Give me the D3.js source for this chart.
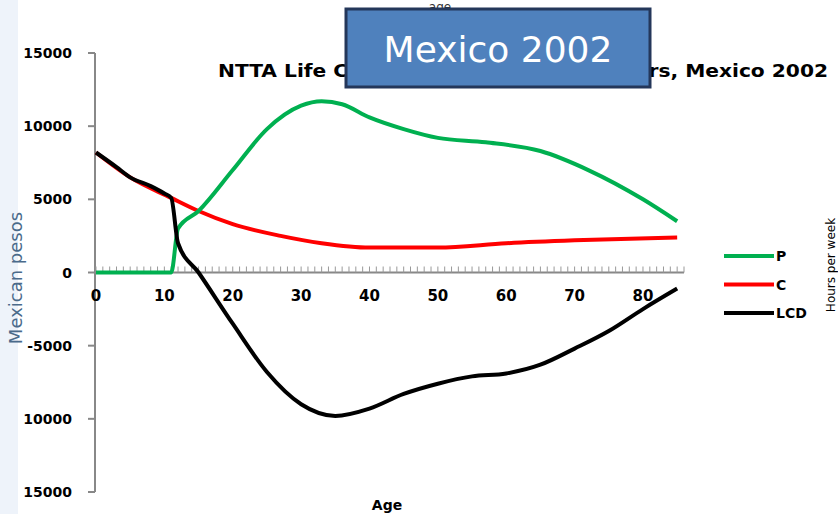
<!DOCTYPE html><html><head><script src="https://cdn.jsdelivr.net/npm/d3@7"></script>
<style>body{margin:0;background:#fff}text{font-family:Verdana,"DejaVu Sans",sans-serif}</style></head><body><svg id="c" width="838" height="514"></svg>
<script>
const pAges=[0,11,12,15,20,25,30,33,36,40,45,50,57,65,72,80,85];
const pVals=[0,0,3000,4200,7000,9800,11400,11700,11500,10600,9800,9200,8900,8300,7000,5000,3500];
const cAges=[0,5,11,15,20,27,33,40,50,60,70,85];
const cVals=[8200,6500,5100,4200,3300,2500,2000,1700,1700,2000,2200,2400];
const lAges=[0,3,5,8,10,11,12,15,20,25,30,35,40,45,50,55,60,65,70,75,80,85];
const lVals=[8200,7200,6500,5900,5400,5100,2000,0,-3500,-6800,-9000,-9800,-9300,-8300,-7600,-7100,-6900,-6300,-5200,-4000,-2500,-1100];
const yTicks=[15000,10000,5000,0,-5000,-10000,-15000];
const yTickLabels=["15000","10000","5000","0","-5000","10000","15000"];
const xTicks=[0,10,20,30,40,50,60,70,80];
const svg=d3.select("#c");
svg.append("rect").attr("x",0).attr("y",0).attr("width",18).attr("height",514).attr("fill","#eef3fa");
const x=d3.scaleLinear().domain([0,86]).range([96,684]);
const y=d3.scaleLinear().domain([-15000,15000]).range([492,53]);
const g=svg.append("g");
g.append("line").attr("x1",95).attr("x2",95).attr("y1",53).attr("y2",492).attr("stroke","#888").attr("stroke-width",2);
yTicks.forEach((t,i)=>{g.append("line").attr("x1",88).attr("x2",95).attr("y1",y(t)).attr("y2",y(t)).attr("stroke","#888").attr("stroke-width",2);
 g.append("text").attr("x",72).attr("y",y(t)+5).attr("text-anchor","end").attr("font-size",14).attr("font-weight","bold").text(yTickLabels[i]);});
g.append("line").attr("x1",95).attr("x2",684).attr("y1",y(0)).attr("y2",y(0)).attr("stroke","#888").attr("stroke-width",2);
d3.range(0,87).forEach(a=>g.append("line").attr("x1",x(a)).attr("x2",x(a)).attr("y1",y(0)).attr("y2",y(0)-6).attr("stroke","#999").attr("stroke-width",1));
xTicks.forEach(t=>g.append("text").attr("x",x(t)).attr("y",y(0)+28).attr("text-anchor","middle").attr("font-size",15).attr("font-weight","bold").text(t));
const line=d3.line().curve(d3.curveMonotoneX);
function draw(a,v,c){svg.append("path").attr("d",line(a.map((d,i)=>[x(d),y(v[i])]))).attr("fill","none").attr("stroke",c).attr("stroke-width",4);}
draw(cAges,cVals,"#ff0000");draw(pAges,pVals,"#00b050");draw(lAges,lVals,"#000");
svg.append("text").attr("x",218).attr("y",77).attr("font-size",17).attr("font-weight","bold").attr("textLength",610).attr("lengthAdjust","spacingAndGlyphs").text("NTTA Life Cycle Deficit and Labor Hours, Mexico 2002");
svg.append("text").attr("x",440).attr("y",11).attr("text-anchor","middle").attr("font-size",12).attr("fill","#333").text("age");
svg.append("text").attr("x",387).attr("y",510).attr("text-anchor","middle").attr("font-size",14).attr("font-weight","bold").text("Age");
svg.append("text").attr("transform","translate(22,278) rotate(-90)").attr("text-anchor","middle").attr("font-size",18).attr("fill","#4a6a8a").attr("font-family","Liberation Sans Narrow,Arial Narrow,sans-serif").text("Mexican pesos");
svg.append("text").attr("transform","translate(835,265) rotate(-90)").attr("text-anchor","middle").attr("font-size",12).text("Hours per week");
[["P","#00b050"],["C","#ff0000"],["LCD","#000"]].forEach((d,i)=>{const yy=256+i*28.5;
 svg.append("line").attr("x1",724).attr("x2",774).attr("y1",yy).attr("y2",yy).attr("stroke",d[1]).attr("stroke-width",4);
 svg.append("text").attr("x",776).attr("y",yy+5).attr("font-size",14).attr("font-weight","bold").text(d[0]);});
svg.append("rect").attr("x",346).attr("y",9).attr("width",304).attr("height",78).attr("fill","#4f81bd").attr("stroke","#24375a").attr("stroke-width",3);
svg.append("text").attr("x",498).attr("y",62).attr("text-anchor","middle").attr("font-size",36).attr("fill","#fff").attr("font-family","Calibri,Carlito,'Open Sans',sans-serif").text("Mexico 2002");
</script></body></html>
